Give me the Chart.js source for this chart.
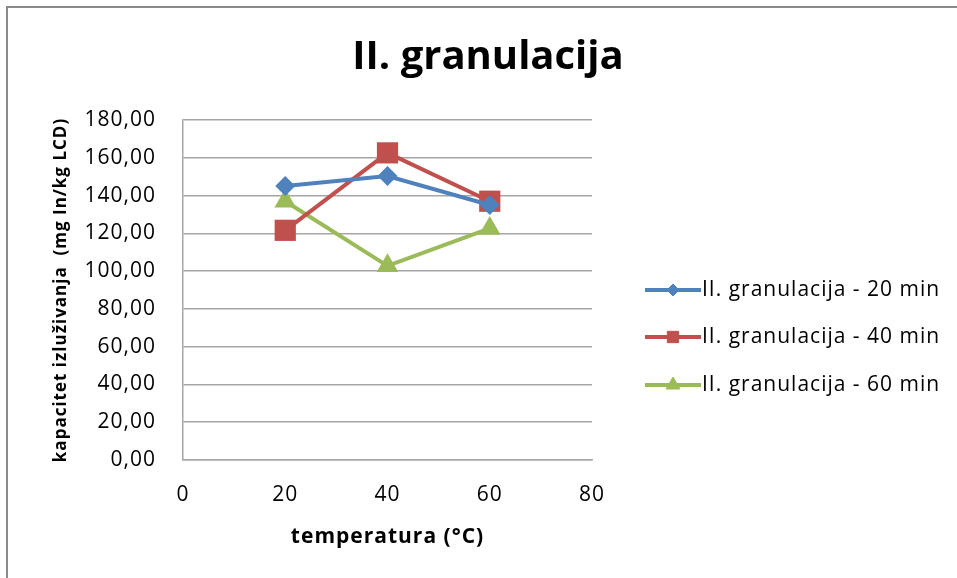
<!DOCTYPE html>
<html>
<head>
<meta charset="utf-8">
<script src="https://cdn.jsdelivr.net/npm/chart.js@4"></script>
<style>
  html, body { margin: 0; padding: 0; background: #fff; }
  #wrap { width: 957px; height: 578px; }
</style>
</head>
<body>
<div id="wrap"><canvas id="chart" width="957" height="578"></canvas></div>
<script>
const FONT = '"Open Sans", Lato, sans-serif';
const TITLE = 'II. granulacija';
const TEMPS = [20, 40, 60];
const MIN20 = [145.0, 150.3, 135.0];
const MIN40 = [121.6, 162.6, 137.0];
const MIN60 = [137.0, 102.8, 122.6];
const LABELS = ['II. granulacija - 20 min', 'II. granulacija - 40 min', 'II. granulacija - 60 min'];
const COLORS = ['#4f81bd', '#c0504d', '#9bbb59'];
const MARKERS = ['rectRot', 'rect', 'triangle'];
const SIZES = [10, 15, 12.5];
const KEY_SIZES = [6, 8, 8];

const toPoints = ys => TEMPS.map((x, i) => ({ x, y: ys[i] }));

// frame, title and a legend with line-and-marker keys, like the spreadsheet chart
const decor = {
  id: 'decor',
  beforeInit(chart) {
    // the original's Calibri runs wider than the fonts we have
    chart.ctx.letterSpacing = '1px';
  },
  beforeDraw(chart) {
    const ctx = chart.ctx;
    ctx.letterSpacing = '1px';
    ctx.save();
    ctx.fillStyle = '#fff';
    ctx.fillRect(0, 0, chart.width, chart.height);
    ctx.strokeStyle = '#8a8a8a';
    ctx.lineWidth = 2;
    ctx.beginPath();
    ctx.moveTo(7, chart.height);
    ctx.lineTo(7, 7);
    ctx.lineTo(chart.width, 7);
    ctx.stroke();
    ctx.restore();
  },
  afterDraw(chart) {
    const ctx = chart.ctx;
    ctx.save();
    ctx.letterSpacing = '0px';
    ctx.fillStyle = '#000';
    ctx.font = 'bold 40px ' + FONT;
    ctx.textAlign = 'center';
    ctx.textBaseline = 'middle';
    ctx.fillText(TITLE, 488, 58);

    const rows = [290, 337, 385];
    ctx.textAlign = 'left';
    ctx.letterSpacing = '1px';
    chart.data.datasets.forEach((ds, i) => {
      const y = rows[i];
      ctx.strokeStyle = ds.borderColor;
      ctx.lineWidth = 4;
      ctx.beginPath();
      ctx.moveTo(645, y);
      ctx.lineTo(701, y);
      ctx.stroke();
      ctx.fillStyle = ds.borderColor;
      ctx.lineWidth = 1;
      Chart.helpers.drawPoint(ctx, {
        pointStyle: ds.pointStyle, radius: KEY_SIZES[i], rotation: 0, borderWidth: 1
      }, 673, y);
      ctx.fillStyle = '#000';
      ctx.font = '21px ' + FONT;
      ctx.fillText(ds.label, 702, y);
    });
    ctx.restore();
  }
};

const series = [MIN20, MIN40, MIN60].map((ys, i) => ({
  label: LABELS[i],
  data: toPoints(ys),
  showLine: true,
  borderColor: COLORS[i],
  backgroundColor: COLORS[i],
  borderWidth: 4,
  pointStyle: MARKERS[i],
  pointRadius: SIZES[i],
  pointHoverRadius: SIZES[i],
  pointBorderWidth: 0,
  pointBorderColor: COLORS[i],
  pointBackgroundColor: COLORS[i],
}));

new Chart(document.getElementById('chart'), {
  type: 'scatter',
  data: { datasets: series },
  options: {
    responsive: false,
    animation: false,
    layout: { padding: { top: 120, left: 0, right: 365, bottom: 0 } },
    plugins: {
      legend: { display: false },
      tooltip: { enabled: false },
    },
    scales: {
      x: {
        type: 'linear',
        min: 0, max: 80,
        afterFit: s => { s.height = 118; },
        ticks: { stepSize: 20, color: '#000', padding: 22, font: { family: FONT, size: 21 } },
        grid: { display: false, drawTicks: false },
        border: { display: true, color: '#a6a6a6', width: 1.5 },
        title: {
          display: true, text: 'temperatura (°C)', color: '#000',
          font: { family: FONT, size: 21, weight: 'bold', lineHeight: 1.2 },
          padding: { top: 0, bottom: 28 },
        },
      },
      y: {
        min: 0, max: 180,
        afterFit: s => { s.width = 183; },
        ticks: {
          stepSize: 20, color: '#000', padding: 27, font: { family: FONT, size: 21 },
          callback: v => v.toFixed(2).replace('.', ','),
        },
        grid: { color: '#a6a6a6', lineWidth: 1.5, drawTicks: false },
        border: { display: true, color: '#a6a6a6', width: 1.5 },
        title: {
          display: true, text: 'kapacitet izluživanja  (mg In/kg LCD)', color: '#000',
          font: { family: FONT, size: 17, weight: 'bold', lineHeight: 1.2 },
          padding: { top: 51, bottom: 0 },
        },
      },
    },
  },
  plugins: [decor],
});
</script>
</body>
</html>
